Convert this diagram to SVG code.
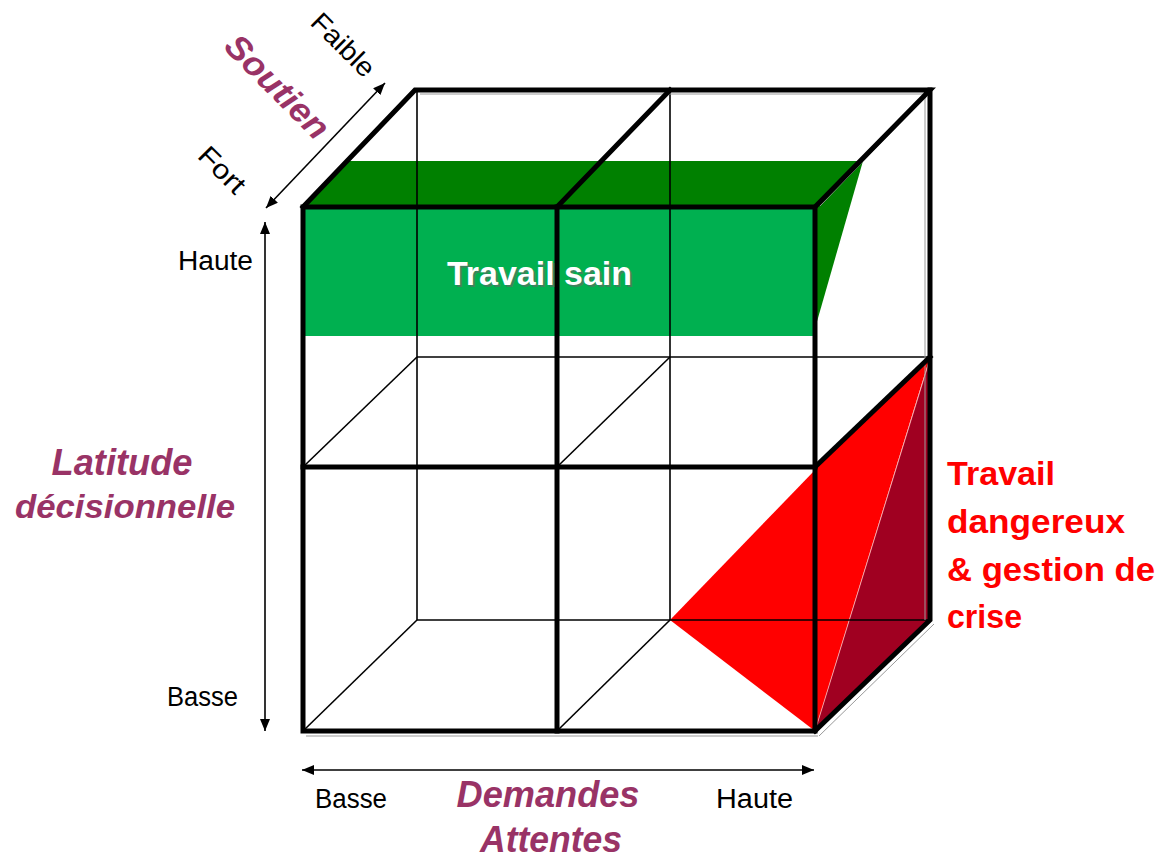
<svg xmlns="http://www.w3.org/2000/svg" width="1167" height="858" viewBox="0 0 1167 858">
<defs>
<style>
.thick{stroke:#000;stroke-width:5;fill:none;stroke-linejoin:miter;stroke-linecap:square}
.thin{stroke:#000;stroke-width:1.6;fill:none}
.shadow{stroke:#9a9a9a;stroke-width:1;fill:none}
.axis{stroke:#000;stroke-width:1.6;fill:none}
.lbl{font-family:"Liberation Sans",Arial,sans-serif;font-size:27px;fill:#000}
.title{font-family:"Liberation Sans",Arial,sans-serif;font-weight:bold;font-style:italic;fill:#993366}
.red{font-family:"Liberation Sans",Arial,sans-serif;font-weight:bold;font-size:34px;fill:#ff0000}
.sain{font-family:"Liberation Sans",Arial,sans-serif;font-weight:bold;font-size:34px}
</style>
<marker id="ah" viewBox="0 0 12 10" refX="12" refY="5" markerWidth="12" markerHeight="10" orient="auto-start-reverse" markerUnits="userSpaceOnUse">
<path d="M0,0 L12,5 L0,10 Z" fill="#000"/>
</marker>
</defs>
<rect width="1167" height="858" fill="#fff"/>

<g id="zone-sain">
<rect x="303" y="207" width="512" height="129" fill="#00b050"/>
<polygon points="303,207 348,161 863,161 815,207" fill="#008000"/>
<polygon points="815,207 863,161 816,325" fill="#008000"/>
</g>

<g id="zone-danger">
<polygon points="670,620 815,470 815,731" fill="#ff0000"/>
<polygon points="815,467 930,357 815,731" fill="#ff0000"/>
<polygon points="929,362 930,620 815,731" fill="#a00021"/>
<line x1="929" y1="362" x2="815" y2="731" stroke="#ffb0b0" stroke-width="0.8"/>
</g>

<g id="connectors">
<g id="cube-thin">
<line class="thin" x1="417" y1="90" x2="417" y2="620"/>
<line class="thin" x1="670" y1="90" x2="670" y2="620"/>
<line class="thin" x1="417" y1="357" x2="930" y2="357"/>
<line class="thin" x1="417" y1="620" x2="930" y2="620"/>
<line class="thin" x1="303" y1="467" x2="417" y2="357"/>
<line class="thin" x1="303" y1="731" x2="417" y2="620"/>
<line class="thin" x1="557" y1="467" x2="670" y2="357"/>
<line class="thin" x1="557" y1="731" x2="670" y2="620"/>
<line class="shadow" x1="420" y1="94" x2="926" y2="94"/>
<line class="shadow" x1="925" y1="96" x2="925" y2="620"/>
<line class="shadow" x1="925" y1="97" x2="820" y2="206"/>
<line class="shadow" x1="306" y1="736" x2="818" y2="736"/>
<line class="shadow" x1="819" y1="736" x2="934" y2="624"/>
</g>
<g id="cube-thick">
<rect class="thick" x="303" y="207" width="512" height="524"/>
<line class="thick" x1="557" y1="207" x2="557" y2="731"/>
<line class="thick" x1="303" y1="467" x2="815" y2="467"/>
<polyline class="thick" points="303,207 415,90 930,90 815,207"/>
<line class="thick" x1="557" y1="207" x2="670" y2="90"/>
<polyline class="thick" points="930,90 930,620 815,731"/>
<line class="thick" x1="815" y1="467" x2="930" y2="357"/>
</g>
<g id="axes">
<line class="axis" x1="265" y1="222" x2="265" y2="731" marker-start="url(#ah)" marker-end="url(#ah)"/>
<line class="axis" x1="302" y1="770" x2="814" y2="770" marker-start="url(#ah)" marker-end="url(#ah)"/>
<line class="axis" x1="385" y1="83" x2="266" y2="208" marker-start="url(#ah)" marker-end="url(#ah)"/>
</g>
</g>

<g id="label-travail-sain">
<text class="sain" x="449" y="287" fill="#666" opacity="0.6" textLength="185" lengthAdjust="spacingAndGlyphs">Travail sain</text>
<text class="sain" x="447" y="285" fill="#fff" textLength="185" lengthAdjust="spacingAndGlyphs">Travail sain</text>
</g>

<g id="label-danger">
<text class="red" x="947" y="485" textLength="108" lengthAdjust="spacingAndGlyphs">Travail</text>
<text class="red" x="947" y="533" textLength="178" lengthAdjust="spacingAndGlyphs">dangereux</text>
<text class="red" x="947" y="581" textLength="208" lengthAdjust="spacingAndGlyphs">&amp; gestion de</text>
<text class="red" x="947" y="628" textLength="75" lengthAdjust="spacingAndGlyphs">crise</text>
</g>

<g id="axis-latitude">
<text class="title" x="122" y="475" font-size="36" text-anchor="middle" textLength="141" lengthAdjust="spacingAndGlyphs">Latitude</text>
<text class="title" x="125" y="518" font-size="34" text-anchor="middle" textLength="220" lengthAdjust="spacingAndGlyphs">décisionnelle</text>
<text class="lbl" x="253" y="270" text-anchor="end" textLength="75" lengthAdjust="spacingAndGlyphs">Haute</text>
<text class="lbl" x="238" y="706" text-anchor="end" textLength="71" lengthAdjust="spacingAndGlyphs">Basse</text>
</g>

<g id="axis-demandes">
<text class="title" x="548" y="807" font-size="36" text-anchor="middle" textLength="183" lengthAdjust="spacingAndGlyphs">Demandes</text>
<text class="title" x="551" y="852" font-size="36" text-anchor="middle" textLength="142" lengthAdjust="spacingAndGlyphs">Attentes</text>
<text class="lbl" x="315" y="808" textLength="72" lengthAdjust="spacingAndGlyphs">Basse</text>
<text class="lbl" x="716" y="808" textLength="77" lengthAdjust="spacingAndGlyphs">Haute</text>
</g>

<g id="axis-soutien">
<text class="title" transform="translate(277,87) rotate(45)" x="0" y="11" font-size="34" text-anchor="middle" textLength="132" lengthAdjust="spacingAndGlyphs">Soutien</text>
<text class="lbl" transform="translate(343,45) rotate(45)" x="0" y="9" text-anchor="middle" textLength="78" lengthAdjust="spacingAndGlyphs">Faible</text>
<text class="lbl" transform="translate(222,170) rotate(45)" x="0" y="9" text-anchor="middle" textLength="55" lengthAdjust="spacingAndGlyphs">Fort</text>
</g>
</svg>
